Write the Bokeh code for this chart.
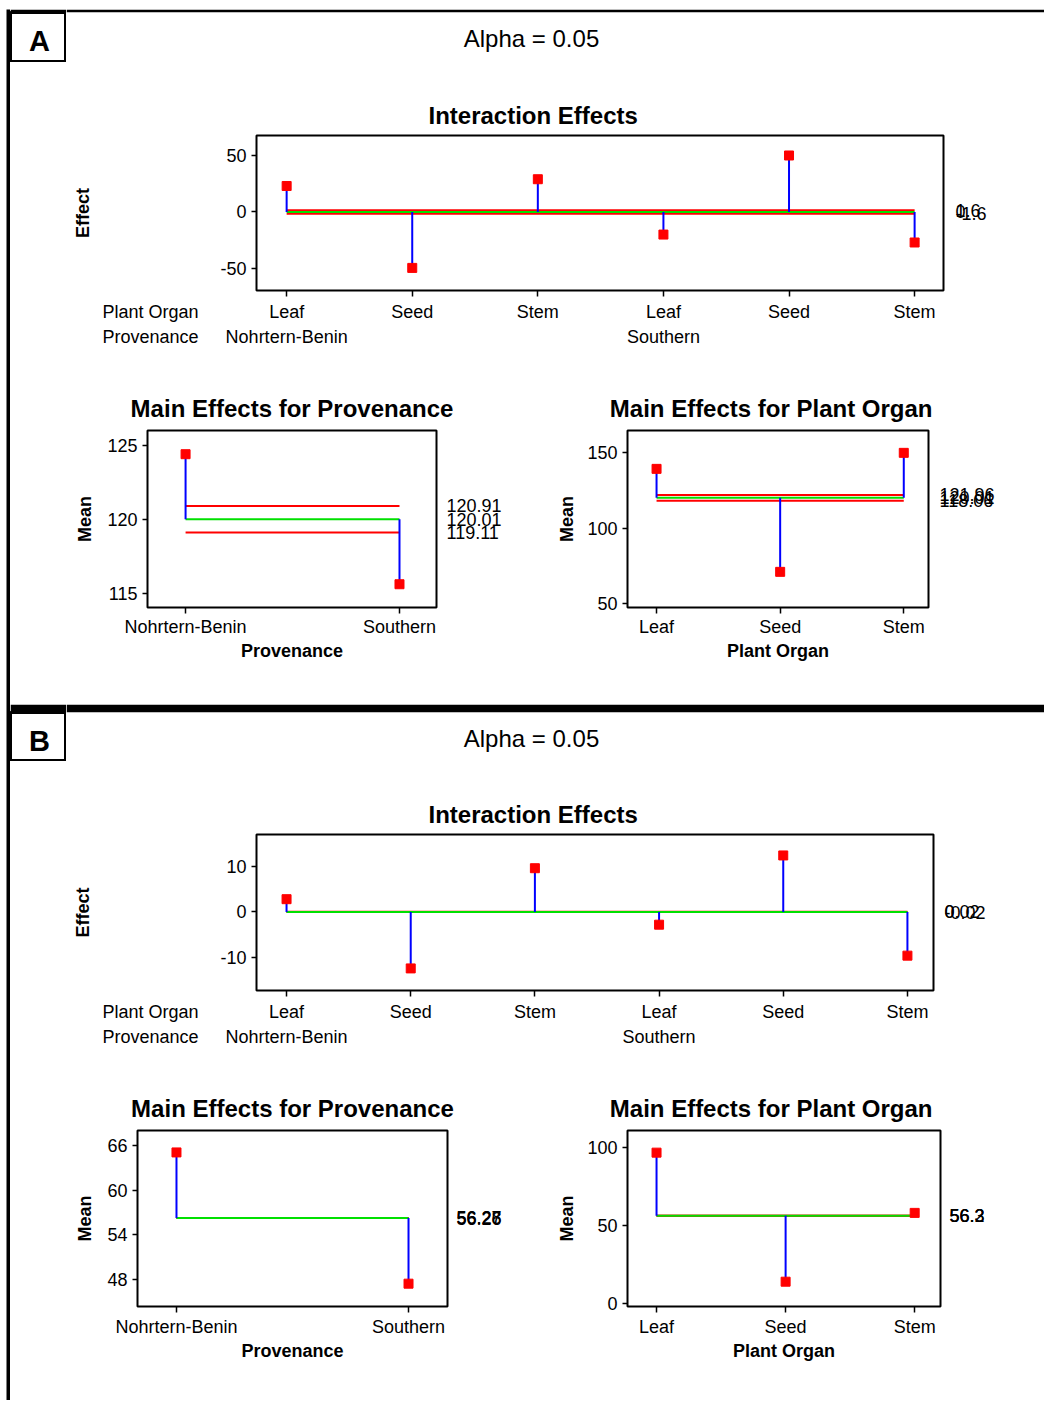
import math
from bokeh.plotting import figure
from bokeh.layouts import row, column
from bokeh.models import Label, FixedTicker, LinearAxis, Range1d, Title, Spacer
from bokeh.embed import file_html
from bokeh.resources import INLINE

# ---------------- data ----------------
organs = ["Leaf", "Seed", "Stem"]
provenances = ["Nohrtern-Benin", "Southern"]
factor_names = ["Plant Organ", "Provenance"]
inter_x = [1, 2, 3, 4, 5, 6]
inter_tick_labels = organs + organs
inter_group_x = [1, 4]
main_prov_x = [1, 2]
main_organ_x = [1, 2, 3]

# Panel A
a_inter_effects = [23.0, -49.5, 29.0, -20.0, 50.0, -27.0]
a_inter_limits = [1.6, 0.0, -1.6]
a_inter_limit_labels = ["1.6", "0", "-1.6"]
a_prov_means = [124.4, 115.62]
a_prov_limits = [120.91, 120.01, 119.11]
a_prov_limit_labels = ["120.91", "120.01", "119.11"]
a_organ_means = [139.2, 71.0, 149.8]
a_organ_limits = [121.96, 120.01, 118.06]
a_organ_limit_labels = ["121.96", "120.01", "118.06"]

# Panel B
b_inter_effects = [2.8, -12.4, 9.6, -2.8, 12.4, -9.6]
b_inter_limits = [0.02, 0.0, -0.02]
b_inter_limit_labels = ["0.02", "0", "-0.02"]
b_prov_means = [65.06, 47.46]
b_prov_limits = [56.28, 56.27, 56.26]
b_prov_limit_labels = ["56.28", "56.27", "56.26"]
b_organ_means = [96.7, 14.0, 58.1]
b_organ_limits = [56.30, 56.27, 56.24]
b_organ_limit_labels = ["56.3", "56.3", "56.2"]

alpha_text = "Alpha = 0.05"

# ---------------- style ----------------
FONT = "Liberation Sans"
RED = "#FF0000"
BLUE = "#0000FF"
GREEN = "#00E000"


def blank(w, h, top=0, left=0, border="white", fill="white"):
    p = figure(width=w, height=h, toolbar_location=None, output_backend="svg",
               x_axis_location=None, y_axis_location=None, min_border=0,
               min_border_top=top, min_border_left=left,
               x_range=Range1d(0, 1), y_range=Range1d(0, 1),
               background_fill_color=fill, border_fill_color=border,
               outline_line_color=None)
    p.grid.visible = False
    return p


def text_label(x, y, text, size="18px", bold=False, align="center", angle=0.0):
    return Label(x=x, y=y, x_units="screen", y_units="screen", text=text,
                 text_font=FONT, text_font_size=size, text_color="black",
                 text_font_style="bold" if bold else "normal",
                 text_align=align, text_baseline="middle", angle=angle)


def letter_box(letter, w, h, top, cy_from_bottom):
    p = blank(w, h, top=top, border="black")
    p.outline_line_color = "black"
    p.outline_line_width = 3
    p.add_layout(text_label(29, cy_from_bottom, letter, size="29px", bold=True))
    return p


def header(w, h, top, cx, cy_from_bottom):
    p = blank(w, h, top=top, border="black")
    p.add_layout(text_label(cx, cy_from_bottom, alpha_text, size="24px"))
    return p


def plain_axis(ticks, labels, tick_out, standoff, size="18px"):
    return LinearAxis(ticker=FixedTicker(ticks=ticks),
                      major_label_overrides={t: lab for t, lab in zip(ticks, labels)},
                      axis_line_color=None, major_tick_line_color="white",
                      minor_tick_line_color=None, major_tick_out=tick_out, major_tick_in=0,
                      major_label_standoff=standoff, major_label_text_font=FONT,
                      major_label_text_font_size=size, major_label_text_color="black")


def inter_text_panel(w, h, fig_x, fig_y, frame_tb, effect_x, head_cx):
    """Left-hand text column of the interaction plot: 'Effect' and the factor names."""
    ft, fb = frame_tb
    p = figure(width=w, height=h, toolbar_location=None, output_backend="svg",
               x_range=Range1d(0, w), y_range=Range1d(0, 1),
               x_axis_location=None, y_axis_location=None,
               min_border_left=0, min_border_right=0,
               min_border_top=ft - fig_y, min_border_bottom=fig_y + h - fb,
               outline_line_color=None, background_fill_color="white",
               border_fill_color="white")
    p.grid.visible = False
    hx = head_cx - fig_x
    p.add_layout(plain_axis([hx], [factor_names[0]], 6, 5), "below")
    p.add_layout(plain_axis([hx], [factor_names[1]], 0, 2), "below")
    p.add_layout(text_label(effect_x - fig_x, (fb - ft) / 2, "Effect", bold=True,
                            angle=math.pi / 2))
    return p


def effects_plot(fig_x, fig_y, width, height, frame, xr, yr, yticks, xs, values,
                 limits, limit_labels, xtick_labels, title, title_align, title_offset,
                 title_standoff, ylabel=None, ylabel_standoff=12, xlabel=None,
                 xlabel_standoff=1, groups=None, group_labels=None, x_standoff=5,
                 lim_dx=11):
    fl, ft, fr, fb = frame
    p = figure(width=width, height=height, toolbar_location=None, output_backend="svg",
               x_range=Range1d(*xr), y_range=Range1d(*yr),
               min_border_left=fl - fig_x, min_border_right=fig_x + width - fr,
               min_border_top=ft - fig_y, min_border_bottom=fig_y + height - fb,
               outline_line_color="black", outline_line_width=2,
               background_fill_color="white", border_fill_color="white")
    p.grid.visible = False

    xa = p.xaxis[0]
    xa.ticker = FixedTicker(ticks=xs)
    xa.major_label_overrides = {x: lab for x, lab in zip(xs, xtick_labels)}
    xa.axis_line_color = None
    xa.major_tick_out = 6
    xa.major_tick_in = 0
    xa.major_tick_line_width = 1.5
    xa.minor_tick_line_color = None
    xa.major_label_standoff = x_standoff
    xa.major_label_text_font = FONT
    xa.major_label_text_font_size = "18px"
    xa.major_label_text_color = "black"
    if xlabel is not None:
        xa.axis_label = xlabel
        xa.axis_label_text_font = FONT
        xa.axis_label_text_font_size = "18px"
        xa.axis_label_text_font_style = "bold"
        xa.axis_label_text_color = "black"
        xa.axis_label_standoff = xlabel_standoff

    ya = p.yaxis[0]
    ya.ticker = FixedTicker(ticks=yticks)
    ya.major_label_overrides = {t: str(t) for t in yticks}
    ya.axis_line_color = None
    ya.major_tick_out = 5
    ya.major_tick_in = 0
    ya.major_tick_line_width = 1.5
    ya.minor_tick_line_color = None
    ya.major_label_standoff = 5
    ya.major_label_text_font = FONT
    ya.major_label_text_font_size = "18px"
    ya.major_label_text_color = "black"
    if ylabel is not None:
        ya.axis_label = ylabel
        ya.axis_label_text_font = FONT
        ya.axis_label_text_font_size = "18px"
        ya.axis_label_text_font_style = "bold"
        ya.axis_label_text_color = "black"
        ya.axis_label_standoff = ylabel_standoff

    if groups is not None:
        p.add_layout(plain_axis(groups, group_labels, 0, 2), "below")

    # decision-limit labels on the right
    p.add_layout(plain_axis(limits, limit_labels, 0, lim_dx, size="18px"), "right")

    p.title = Title(text=title, align=title_align, offset=title_offset,
                    standoff=title_standoff, text_font=FONT, text_font_size="24px",
                    text_font_style="bold", text_color="black")

    upper, center, lower = limits
    ends = [xs[0], xs[-1]]
    p.line(ends, [upper, upper], line_color=RED, line_width=2)
    p.line(ends, [lower, lower], line_color=RED, line_width=2)
    p.line(ends, [center, center], line_color=GREEN, line_width=2)
    p.segment(x0=xs, y0=[center] * len(xs), x1=xs, y1=values,
              line_color=BLUE, line_width=2)
    p.scatter(xs, values, marker="square", size=9, fill_color=RED, line_color=RED)
    return p


# ---------------- left bar ----------------
left_bar = blank(10, 1400, top=9, left=6, border="white", fill="black")

# ---------------- Panel A ----------------
a_box = letter_box("A", 56, 53, 3, 22)
a_head = header(978, 53, 3, 465, 24)
a_text = inter_text_panel(200, 303, 10, 62, (135, 290), 82, 150)
a_inter = effects_plot(210, 62, 834, 303, (256, 135, 943, 290), (0.76, 6.23), (-69.5, 67.7),
                       [-50, 0, 50], inter_x, a_inter_effects, a_inter_limits,
                       a_inter_limit_labels, inter_tick_labels, "Interaction Effects",
                       "left", 172, 14, groups=inter_group_x, group_labels=provenances,
                       x_standoff=5, lim_dx=12)
a_prov = effects_plot(10, 365, 520, 339, (147, 430, 436, 607), (0.822, 2.173), (114.05, 126.0),
                      [115, 120, 125], main_prov_x, a_prov_means, a_prov_limits,
                      a_prov_limit_labels, provenances, "Main Effects for Provenance",
                      "center", 0, 18, ylabel="Mean", ylabel_standoff=9,
                      xlabel="Provenance", xlabel_standoff=1, x_standoff=3, lim_dx=10)
a_organ = effects_plot(530, 365, 514, 339, (627, 430, 928, 607), (0.765, 3.2), (47.4, 164.6),
                       [50, 100, 150], main_organ_x, a_organ_means, a_organ_limits,
                       a_organ_limit_labels, organs, "Main Effects for Plant Organ",
                       "right", -4, 18, ylabel="Mean", ylabel_standoff=7,
                       xlabel="Plant Organ", xlabel_standoff=1, x_standoff=3, lim_dx=11)

# ---------------- Panel B ----------------
b_box = letter_box("B", 56, 57, 8, 21)
b_head = header(978, 57, 8, 465, 23)
b_text = inter_text_panel(200, 303, 10, 761, (834, 990), 82, 150)
b_inter = effects_plot(210, 761, 834, 303, (256, 834, 933, 990), (0.758, 6.21), (-17.25, 17.0),
                       [-10, 0, 10], inter_x, b_inter_effects, b_inter_limits,
                       b_inter_limit_labels, inter_tick_labels, "Interaction Effects",
                       "left", 172, 14, groups=inter_group_x, group_labels=provenances,
                       x_standoff=5, lim_dx=11)
b_prov = effects_plot(10, 1064, 520, 336, (137, 1130, 447, 1306), (0.832, 2.168), (44.4, 68.0),
                      [48, 54, 60, 66], main_prov_x, b_prov_means, b_prov_limits,
                      b_prov_limit_labels, provenances, "Main Effects for Provenance",
                      "center", 0, 18, ylabel="Mean", ylabel_standoff=9,
                      xlabel="Provenance", xlabel_standoff=1, x_standoff=4, lim_dx=9)
b_organ = effects_plot(530, 1064, 514, 336, (627, 1130, 940, 1306), (0.775, 3.2), (-1.9, 110.9),
                       [0, 50, 100], main_organ_x, b_organ_means, b_organ_limits,
                       b_organ_limit_labels, organs, "Main Effects for Plant Organ",
                       "right", 8, 18, ylabel="Mean", ylabel_standoff=7,
                       xlabel="Plant Organ", xlabel_standoff=1, x_standoff=4, lim_dx=9)

right_col = column(
    Spacer(width=1034, height=9),
    row(a_box, a_head),
    row(a_text, a_inter),
    row(a_prov, a_organ),
    row(b_box, b_head),
    row(b_text, b_inter),
    row(b_prov, b_organ),
)
root = row(left_bar, right_col)

open("out.html", "w").write(file_html(root, INLINE, title="ANOM effects"))
